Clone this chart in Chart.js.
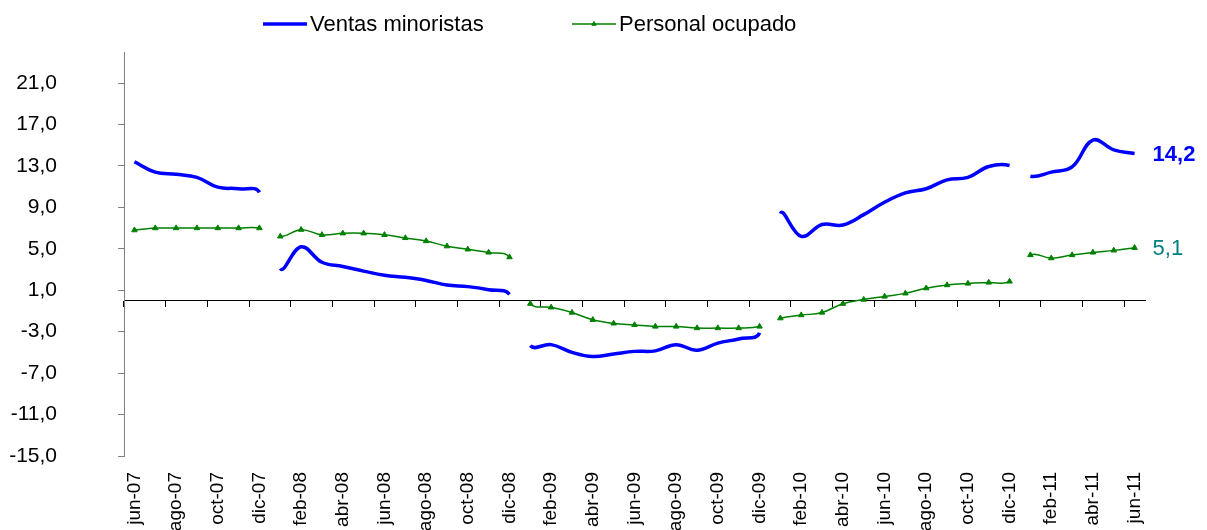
<!DOCTYPE html>
<html lang="es">
<head>
<meta charset="utf-8">
<title>Ventas minoristas y personal ocupado</title>
<script src="https://cdn.jsdelivr.net/npm/chart.js@4.4.1/dist/chart.umd.min.js"></script>
<style>
  html, body { margin: 0; padding: 0; background: #fff; }
  #wrap { width: 1207px; height: 530px; overflow: hidden; }
</style>
</head>
<body>
<div id="wrap"><canvas id="myChart" width="1207" height="530"></canvas></div>
<script>
//categorias mensuales, jun-07 a jun-11
const meses = [
  "jun-07", "jul-07", "ago-07", "sep-07", "oct-07", "nov-07", "dic-07",
  "ene-08", "feb-08", "mar-08", "abr-08", "may-08", "jun-08", "jul-08", "ago-08", "sep-08", "oct-08", "nov-08", "dic-08",
  "ene-09", "feb-09", "mar-09", "abr-09", "may-09", "jun-09", "jul-09", "ago-09", "sep-09", "oct-09", "nov-09", "dic-09",
  "ene-10", "feb-10", "mar-10", "abr-10", "may-10", "jun-10", "jul-10", "ago-10", "sep-10", "oct-10", "nov-10", "dic-10",
  "ene-11", "feb-11", "mar-11", "abr-11", "may-11", "jun-11"
];

//variacion anual (%)
const ventas = [
  13.4, 12.4, 12.2, 11.9, 10.95, 10.8, 10.45,
  3.1, 5.2, 3.7, 3.3, 2.85, 2.45, 2.25, 1.95, 1.5, 1.35, 1.05, 0.6,
  -4.35, -4.25, -5.0, -5.4, -5.15, -4.9, -4.85, -4.25, -4.8, -4.1, -3.7, -3.1,
  8.4, 6.2, 7.35, 7.3, 8.3, 9.5, 10.4, 10.8, 11.65, 11.9, 12.95, 13.05,
  12.0, 12.4, 12.9, 15.5, 14.55, 14.2
];
const personal = [
  6.8, 7.0, 7.0, 7.0, 7.0, 7.0, 7.0,
  6.2, 6.85, 6.35, 6.5, 6.5, 6.35, 6.05, 5.75, 5.25, 4.95, 4.65, 4.2,
  -0.3, -0.65, -1.15, -1.85, -2.2, -2.35, -2.5, -2.5, -2.65, -2.65, -2.65, -2.5,
  -1.7, -1.4, -1.15, -0.3, 0.1, 0.4, 0.7, 1.2, 1.5, 1.65, 1.75, 1.85,
  4.4, 4.1, 4.4, 4.65, 4.85, 5.1
];
const yTicks = [-15, -11, -7, -3, 1, 5, 9, 13, 17, 21];

const fuente = "'Liberation Sans', Arial, sans-serif";
Chart.defaults.font.family = fuente;
Chart.defaults.color = "#000";

const coma = (v) => v.toFixed(1).replace(".", ",");

// la linea se corta entre diciembre y enero
const corte = (color) => (ctx) => meses[ctx.p0DataIndex].startsWith("dic") ? "transparent" : color;

//leyenda dibujada arriba
const leyenda = {
  id: "leyenda",
  afterDraw(chart) {
    const c = chart.ctx;
    const y = 24;
    const inicio = [263, 572];
    c.save();
    c.font = "22px " + fuente;
    c.textBaseline = "middle";
    chart.data.datasets.forEach((ds, i) => {
      const x = inicio[i];
      c.strokeStyle = ds.borderColor;
      c.fillStyle = ds.borderColor;
      c.lineWidth = ds.borderWidth;
      c.beginPath();
      c.moveTo(x, y);
      c.lineTo(x + 44, y);
      c.stroke();
      if (ds.pointRadius) {
        c.lineWidth = 1;
        Chart.helpers.drawPoint(c, { pointStyle: "triangle", radius: 2.5, rotation: 0, borderWidth: 1 }, x + 22, y);
      }
      c.fillStyle = "#000";
      c.fillText(ds.label, x + 47, y + 1);
    });
    c.restore();
  },
};

//valor del ultimo mes a la derecha
const ultimoValor = {
  id: "ultimoValor",
  afterDatasetsDraw(chart) {
    const c = chart.ctx;
    chart.data.datasets.forEach((ds, i) => {
      const meta = chart.getDatasetMeta(i);
      const p = meta.data[meta.data.length - 1];
      c.save();
      c.font = ds.finFont;
      c.fillStyle = ds.finColor;
      c.textBaseline = "middle";
      c.fillText(coma(ds.data[ds.data.length - 1]), p.x + 18, p.y + 1);
      c.restore();
    });
  },
};

const ctx = document.getElementById("myChart");
const myChart = new Chart(ctx, {
  type: "line",
  data: {
    labels: meses,
    datasets: [
      {
        label: "Ventas minoristas",
        data: ventas,
        borderColor: "#0000ff",
        borderWidth: 3.5,
        pointRadius: 0,
        tension: 0.4,
        segment: { borderColor: corte("#0000ff") },
        finFont: "bold 22px " + fuente,
        finColor: "#0000ff",
      },
      {
        label: "Personal ocupado",
        data: personal,
        borderColor: "#008000",
        backgroundColor: "#008000",
        borderWidth: 1.5,
        pointStyle: "triangle",
        pointRadius: 3.2,
        pointBorderWidth: 1,
        tension: 0.4,
        segment: { borderColor: corte("#008000") },
        finFont: "22px " + fuente,
        finColor: "#008080",
      },
    ],
  },
  options: {
    responsive: false,
    animation: false,
    layout: { padding: { top: 52, right: 62, left: 0, bottom: 0 } },
    plugins: {
      legend: { display: false },
      tooltip: { enabled: false },
    },
    scales: {
      x: {
        type: "category",
        position: { y: 0 },
        offset: true,
        border: { color: "#000", width: 1 },
        grid: {
          offset: true,
          drawOnChartArea: false,
          tickLength: 6,
          color: (c) => (c.index % 2 === 0 ? "#000" : "transparent"),
        },
        ticks: { display: false },
      },
      xEtiquetas: {
        type: "category",
        position: "bottom",
        offset: true,
        border: { display: false },
        grid: { display: false, drawTicks: false },
        ticks: {
          autoSkip: false,
          minRotation: 90,
          maxRotation: 90,
          padding: 16,
          font: { size: 19 },
          callback: (v, i) => (i % 2 ? "" : meses[i]),
        },
        afterFit: (s) => { s.height = 74; },
      },
      y: {
        min: -15,
        max: 24,
        border: { color: "#808080", width: 1 },
        grid: { drawOnChartArea: false, tickLength: 6, color: "#808080" },
        ticks: { padding: 61, font: { size: 21 }, callback: (v) => coma(v) },
        afterBuildTicks: (s) => { s.ticks = yTicks.map((v) => ({ value: v })); },
        afterFit: (s) => {
          s.width = 124;
          s.paddingTop = 10;
          s.paddingBottom = 10;
        },
      },
    },
  },
  plugins: [leyenda, ultimoValor],
});
</script>
</body>
</html>
